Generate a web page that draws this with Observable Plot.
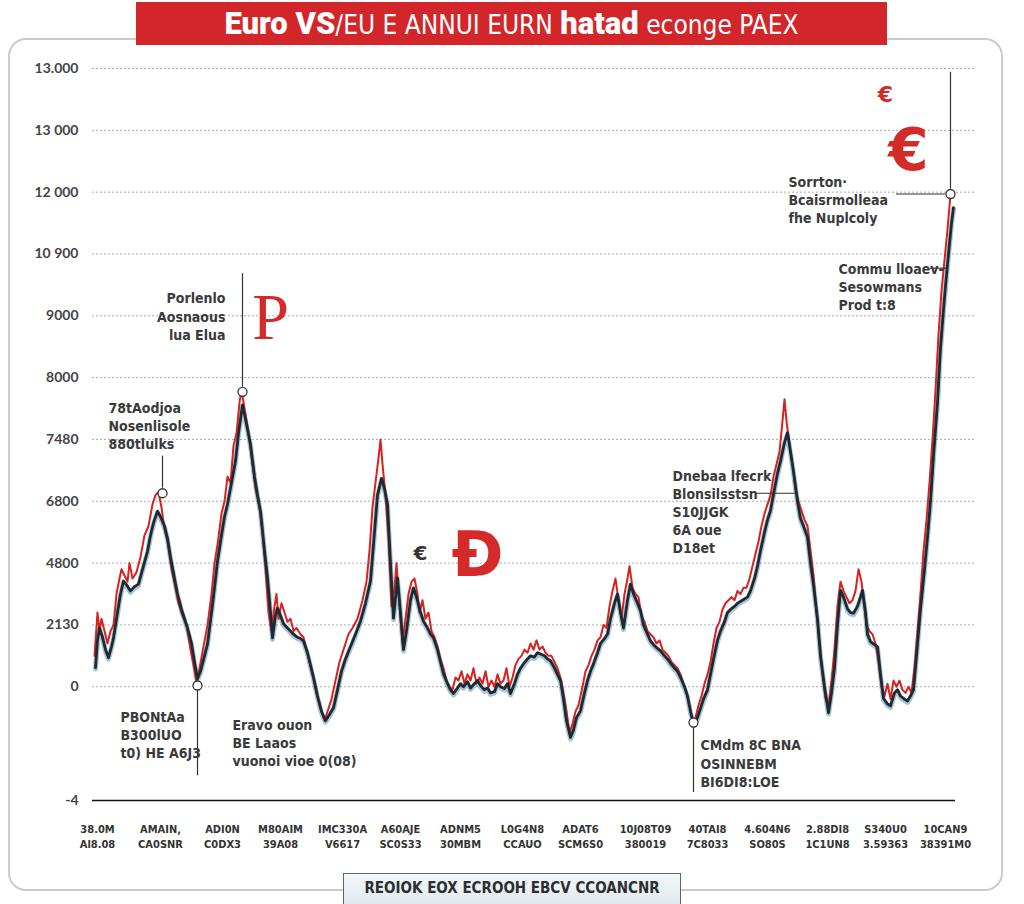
<!DOCTYPE html>
<html>
<head>
<meta charset="utf-8">
<script src="https://cdn.jsdelivr.net/npm/d3@7"></script>
<script src="https://cdn.jsdelivr.net/npm/@observablehq/plot@0.6"></script>
<style>
  html, body { margin: 0; padding: 0; background: #fff; }
  body { width: 1024px; height: 904px; position: relative; overflow: hidden; }
  #card { position: absolute; left: 8px; top: 38px; width: 995px; height: 853px; box-sizing: border-box;
          border: 2px solid #c6cdd1; border-radius: 18px; }
  #chart { position: absolute; left: 0; top: 0; }
  #title { position: absolute; left: 136px; top: 2px; width: 751px; height: 43px; background: #d3262b;
           color: #fff; text-align: center; line-height: 43px; white-space: nowrap;
           font-family: "DejaVu Sans Condensed", "Roboto", sans-serif; font-size: 26px; }
  #title b { font-family: Roboto, "Liberation Sans", sans-serif; font-weight: 900; font-size: 31px; }
  #caption { position: absolute; left: 343px; top: 873px; width: 338px; height: 31px; box-sizing: border-box;
             background: linear-gradient(#f4f7f8, #e1e9ee); border: 1.5px solid #5b6770; border-bottom: none;
             text-align: center; line-height: 29px; color: #2b2f33; white-space: nowrap;
             font-family: "DejaVu Sans Condensed", sans-serif; font-weight: bold; font-size: 15px; }
</style>
</head>
<body>
<div id="card"></div>
<div id="chart"></div>
<div id="title"><b>Euro VS</b>/EU E ANNUI EURN <b>hatad</b> econge PAEX</div>
<div id="caption">REOIOK EOX ECROOH EBCV CCOANCNR</div>
<script>
// ---- data (x = week index, y = index value) ----
const darkWeek = [0,2,4,7,10,13,16,18,22,25,28,31,35,39,43,47,52,55,58,62,65,69,72,75,79,82,86,89,92,96,99,102,105,109,112,116,119,122,126,129,132,136,140,143,147,151,155,159,162,165,169,172,175,177,180,182,185,188,192,195,198,202,205,208,212,215,218,222,226,230,234,238,242,246,250,255,260,265,270,275,279,282,286,289,292,295,298,302,305,308,311,315,318,321,325,328,332,335,338,342,345,348,352,355,358,362,365,368,372,375,379,382,385,389,392,395,399,402,405,409,412,415,419,422,425,428,432,435,439,442,445,449,452,455,459,462,465,468,471,475,478,481,485,489,492,495,498,502,505,509,512,515,519,522,525,528,532,535,538,542,545,548,552,555,558,562,565,569,572,575,579,582,585,589,592,595,598,602,605,608,612,615,618,622,625,629,632,635,639,642,645,649,652,655,659,662,665,669,672,675,679,682,685,689,692,695,698,702,705,708,712,715,718,722,725,729,733,736,739,742,745,748,752,755,758,762,765,767,770,772,775,779,782,785,788,792,795,799,802,805,809,812,815,818,821,825,829,832,835,838,842,845,848,850,853,856,858];
const darkValue = [0.31,0.75,0.95,0.8,0.6,0.47,0.65,0.79,1.2,1.5,1.71,1.65,1.55,1.62,1.66,1.9,2.19,2.45,2.65,2.84,2.75,2.6,2.4,2.1,1.75,1.5,1.25,1.1,0.95,0.7,0.4,0.13,0.25,0.5,0.69,1.2,1.6,2.03,2.45,2.75,2.95,3.3,3.65,4.1,4.56,4.25,3.92,3.4,3.1,2.84,2.2,1.76,1.2,0.79,1.15,1.27,1.15,1.02,0.95,0.9,0.85,0.8,0.78,0.74,0.55,0.35,0.15,-0.15,-0.4,-0.55,-0.45,-0.34,-0.05,0.25,0.45,0.65,0.85,1.06,1.35,1.71,2.5,3.1,3.37,3.2,2.95,2.0,1.11,1.76,1.2,0.6,0.9,1.4,1.6,1.45,1.2,1.06,0.95,0.85,0.79,0.6,0.4,0.21,0.05,-0.05,-0.11,-0.02,0.05,0.0,0.08,-0.02,0.05,0.1,0.02,-0.05,-0.02,-0.1,-0.08,0.05,0.0,-0.03,0.05,-0.11,0.05,0.2,0.3,0.37,0.45,0.5,0.48,0.55,0.53,0.5,0.45,0.42,0.3,0.2,0.1,-0.2,-0.55,-0.82,-0.7,-0.5,-0.39,-0.1,0.1,0.25,0.37,0.55,0.7,0.78,0.85,1.1,1.35,1.5,1.2,0.95,1.4,1.66,1.5,1.35,1.23,1.0,0.85,0.74,0.68,0.62,0.58,0.5,0.45,0.38,0.3,0.25,0.15,0.0,-0.15,-0.4,-0.6,-0.5,-0.35,-0.2,-0.05,0.2,0.45,0.75,0.9,1.05,1.2,1.25,1.3,1.35,1.38,1.42,1.45,1.55,1.75,1.95,2.2,2.5,2.7,2.85,3.2,3.45,3.65,3.95,4.11,3.8,3.48,3.0,2.72,2.6,2.42,2.0,1.65,1.1,0.5,0.0,-0.42,-0.1,0.3,1.0,1.56,1.45,1.26,1.2,1.19,1.3,1.45,1.56,1.2,0.85,0.73,0.68,0.65,0.2,-0.19,-0.28,-0.31,-0.1,-0.05,-0.15,-0.2,-0.23,-0.15,-0.05,0.5,1.26,1.9,2.42,3.0,3.73,4.6,5.48,6.1,6.48,7.0,7.5,7.75];

const redWeek = [-1,2,4,6,9,12,15,18,21,24,26,29,32,34,37,41,45,49,53,57,60,63,66,69,72,76,80,83,87,91,95,98,101,104,108,112,116,119,122,126,129,132,135,138,141,144,146,149,153,157,160,164,167,170,173,176,179,181,183,186,189,192,195,198,201,205,208,211,214,217,221,225,229,232,236,240,244,248,253,257,262,267,271,274,277,280,283,285,287,290,293,296,299,301,304,307,310,313,316,319,322,324,327,330,333,336,339,342,345,348,351,354,357,360,363,366,369,372,375,378,381,384,387,390,393,396,399,402,405,408,411,414,417,420,423,426,429,432,435,438,441,444,447,450,453,456,459,462,465,468,471,474,477,480,483,487,490,493,496,499,502,505,508,511,514,517,520,523,526,529,532,534,537,540,543,546,549,552,555,558,561,564,567,570,573,576,579,582,585,588,591,594,597,600,603,606,609,612,615,618,621,624,627,630,633,636,639,642,645,648,651,654,657,660,663,666,669,672,675,678,681,684,687,689,691,694,697,700,703,706,709,712,715,718,721,724,727,730,733,736,739,742,745,748,751,754,757,760,763,766,769,771,774,777,780,783,786,789,792,795,798,801,804,807,810,813,816,819,822,825,828,831,834,837,840,843,846,849,852,855];
const redValue = [0.5,1.2,0.9,1.1,0.9,0.7,0.9,1.0,1.5,1.75,1.9,1.8,1.7,2.0,1.75,1.85,2.1,2.45,2.6,2.95,3.1,3.15,2.9,2.55,2.35,1.9,1.6,1.35,1.15,1.0,0.6,0.35,0.05,0.3,0.65,1.0,1.5,2.0,2.3,2.8,3.0,3.4,3.3,3.9,4.1,4.6,4.8,4.5,4.1,3.6,3.2,2.9,2.5,1.9,1.2,0.9,1.3,1.5,1.1,1.35,1.2,1.05,1.1,0.9,0.95,0.85,0.8,0.6,0.4,0.2,-0.1,-0.35,-0.55,-0.4,-0.2,0.1,0.4,0.6,0.85,0.95,1.1,1.4,1.7,2.2,2.9,3.3,3.7,4.0,3.6,3.1,2.4,1.3,1.6,2.0,1.3,0.7,1.1,1.5,1.7,1.75,1.5,1.2,1.4,1.1,1.2,0.9,0.8,0.65,0.45,0.3,0.1,0.0,-0.05,0.15,0.1,0.25,0.05,0.2,0.1,0.3,0.05,0.15,0.05,0.25,0.0,0.1,0.0,0.2,0.05,0.1,0.3,0.0,0.15,0.35,0.45,0.5,0.6,0.55,0.7,0.6,0.75,0.6,0.65,0.55,0.5,0.5,0.4,0.3,0.15,-0.1,-0.4,-0.75,-0.6,-0.4,-0.3,0.0,0.25,0.35,0.5,0.6,0.75,0.8,1.0,0.95,1.3,1.55,1.75,1.4,1.1,1.5,1.75,1.95,1.6,1.5,1.45,1.15,1.05,0.9,0.85,0.8,0.7,0.75,0.6,0.55,0.5,0.4,0.35,0.3,0.2,0.05,-0.1,-0.3,-0.55,-0.5,-0.3,-0.15,0.05,0.2,0.4,0.7,0.95,1.05,1.25,1.35,1.4,1.45,1.4,1.55,1.5,1.6,1.6,1.75,1.95,2.15,2.35,2.6,2.8,2.95,3.1,3.4,3.6,3.8,4.3,4.65,4.3,3.9,3.6,3.2,3.0,2.85,2.7,2.6,2.2,1.8,1.2,0.7,0.2,-0.2,-0.3,0.1,0.6,1.3,1.7,1.55,1.45,1.35,1.4,1.55,1.9,1.7,1.3,1.0,0.9,0.85,0.7,0.4,0.0,-0.15,0.05,-0.2,0.1,0.0,0.1,-0.05,-0.1,0.0,-0.1,0.3,0.9,1.5,2.2,2.7,3.3,4.0,4.8,5.7,6.4,6.9,7.4,7.97];

const yTickValues = [-1.84, 0, 1, 2, 3, 4, 5, 6, 7, 8, 9, 10];
const yTickLabels = ["-4", "0", "2130", "4800", "6800", "7480", "8000", "9000", "10 900", "12 000", "13 000", "13.000"];

const xTickValues = [2, 65, 127, 185, 247, 305, 365, 427, 485, 550, 612, 672, 732, 790, 850];
const xTickLabels = ["38.0M\nAl8.08", "AMAIN,\nCA0SNR", "ADI0N\nC0DX3", "M80AIM\n39A08", "IMC330A\nV6617", "A60AJE\nSC0S33", "ADNM5\n30MBM", "L0G4N8\nCCAUO", "ADAT6\nSCM6S0", "10J08T09\n380019", "40TAI8\n7C8033", "4.604N6\nSO80S", "2.88DI8\n1C1UN8", "S340U0\n3.59363", "10CAN9\n38391M0"];

// annotations: text blocks
const noteWeek  = [130, 13, 25, 137, 577, 605, 693, 743];
const noteValue = [6.0, 4.23, -0.77, -0.9, 2.84, -1.23, 7.89, 6.48];
const noteAnchor = ["end", "start", "start", "start", "start", "start", "start", "start"];
const noteText = [
  "Porlenlo\nAosnaous\nlua Elua",
  "78tAodjoa\nNosenlisole\n880tlulks",
  "PBONtAa\nB300lUO\nt0) HE A6J3",
  "Eravo ouon\nBE Laaos\nvuonoi vioe 0(08)",
  "Dnebaa lfecrk\nBlonsilsstsn\nS10JJGK\n6A oue\nD18et",
  "CMdm 8C BNA\nOSINNEBM\nBI6DI8:LOE",
  "Sorrton·\nBcaisrmolleaa\nfhe Nuplcoly",
  "Commu lloaev-\nSesowmans\nProd t:8"
];
// marker circles
const markWeek  = [147, 67, 102, 598, 855];
const markValue = [4.77, 3.13, 0.02, -0.58, 7.97];
// leader lines (vertical)
const vLineWeek = [147, 67, 102, 598, 855];
const vLineFrom = [4.85, 3.21, -0.06, -0.66, 8.05];
const vLineTo   = [6.68, 3.73, -1.44, -1.71, 9.94];
// leader lines (horizontal)
const hLineFrom  = [660, 801, 835];
const hLineTo    = [700, 850, 852];
const hLineValue = [3.13, 7.97, 6.77];
// big letters
const glyphText  = ["P", "€", "Đ", "€", "€"];
const glyphWeek  = [175, 325, 382, 790, 813];
const glyphValue = [5.97, 2.16, 2.11, 9.58, 8.66];
const glyphSize  = [66, 20, 62, 22, 58];
const glyphColor = ["#d42a2a", "#333333", "#d42a2a", "#d42a2a", "#d42a2a"];
const glyphFont  = ["Liberation Serif", "DejaVu Sans", "DejaVu Sans", "DejaVu Sans", "DejaVu Sans"];

// ---- build tables ----
const dark = darkWeek.map((w, i) => ({w, v: darkValue[i]}));
const red = redWeek.map((w, i) => ({w, v: redValue[i]}));
const yTicks = yTickValues.map((v, i) => ({v, label: yTickLabels[i]}));
const xTicks = xTickValues.map((w, i) => ({w, label: xTickLabels[i]}));
const notes = noteWeek.map((w, i) => ({w, v: noteValue[i], text: noteText[i], anchor: noteAnchor[i]}));
const marks = markWeek.map((w, i) => ({w, v: markValue[i]}));
const vLines = vLineWeek.map((w, i) => ({w, y1: vLineFrom[i], y2: vLineTo[i]}));
const hLines = hLineFrom.map((x1, i) => ({x1, x2: hLineTo[i], v: hLineValue[i]}));
const glyphs = glyphText.map((t, i) => ({t, w: glyphWeek[i], v: glyphValue[i], size: glyphSize[i], color: glyphColor[i], font: glyphFont[i]}));

const textFont = "'DejaVu Sans Condensed', 'Liberation Sans Narrow', sans-serif";

const glyphMarks = glyphs.map(g => Plot.text([g], {
  x: "w", y: "v", text: "t", fill: g.color, fontSize: g.size, fontFamily: g.font,
  fontWeight: g.t === "P" ? "normal" : "bold"
}));

const noteMarks = ["start", "end"].map(a => Plot.text(notes.filter(n => n.anchor === a), {
  x: "w", y: "v", text: "text", textAnchor: a, lineHeight: 1.3,
  fontSize: 14, fontWeight: "bold", fontFamily: textFont, fill: "#3a3a3a"
}));

const chart = Plot.plot({
  width: 1024,
  height: 870,
  marginLeft: 92,
  marginRight: 49,
  marginTop: 68,
  marginBottom: 70,
  x: {domain: [-3, 880], axis: null},
  y: {domain: [-1.84, 10], axis: null},
  style: {background: "transparent", overflow: "visible"},
  marks: [
    Plot.ruleY(yTickValues.slice(1), {stroke: "#a9adb0", strokeWidth: 1, strokeDasharray: "2,2"}),
    Plot.ruleY([yTickValues[0]], {x1: -3, x2: 860, stroke: "#111", strokeWidth: 1.5}),
    Plot.text(yTicks, {y: "v", text: "label", frameAnchor: "left", textAnchor: "end", dx: -14,
      fontSize: 14, fontWeight: "bold", fontFamily: "Lato, 'DejaVu Sans', sans-serif", fill: "#444"}),
    Plot.text(xTicks, {x: "w", text: "label", frameAnchor: "bottom", lineAnchor: "top", dy: 22, lineHeight: 1.35,
      fontSize: 11, fontWeight: "bold", fontFamily: textFont, fill: "#333"}),
    Plot.line(dark, {x: "w", y: "v", stroke: "#3f7f9a", strokeWidth: 5, strokeOpacity: 0.45, dy: 1.5}),
    Plot.line(red, {x: "w", y: "v", stroke: "#d8221f", strokeWidth: 2}),
    Plot.line(dark, {x: "w", y: "v", stroke: "#1e2a33", strokeWidth: 2.8, strokeLinejoin: "round"}),
    Plot.ruleX(vLines, {x: "w", y1: "y1", y2: "y2", stroke: "#333", strokeWidth: 1.2}),
    Plot.ruleY(hLines, {y: "v", x1: "x1", x2: "x2", stroke: "#333", strokeWidth: 1.2}),
    Plot.dot(marks, {x: "w", y: "v", r: 4.5, fill: "#fff", stroke: "#333", strokeWidth: 1.3}),
    ...noteMarks,
    ...glyphMarks
  ]
});
document.getElementById("chart").appendChild(chart);
</script>
</body>
</html>
